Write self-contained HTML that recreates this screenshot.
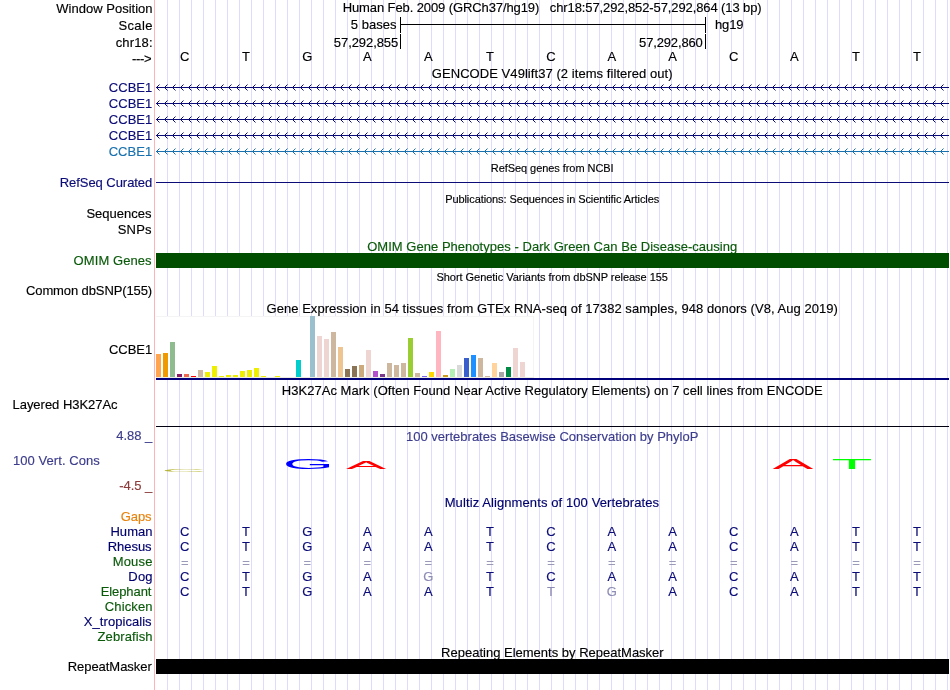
<!DOCTYPE html>
<html lang="en"><head><meta charset="utf-8"><title>UCSC Genome Browser - chr18:57,292,852-57,292,864</title>
<style>
html,body{margin:0;padding:0;background:#fff;}
body{width:950px;height:690px;overflow:hidden;position:relative;}
svg{position:absolute;left:0;top:0;display:block;}
text{font-family:"Liberation Sans",Arial,Helvetica,sans-serif;font-size:13px;white-space:pre;stroke:#000;stroke-width:0.15px;}
.s{font-size:11px;}
.r{text-anchor:end;}
.c{text-anchor:middle;}
.g{shape-rendering:crispEdges;}
.lg{font-size:100px;stroke:none;}
.k0{fill:#0c0c78;stroke:#0c0c78;}
.k1{fill:#1870ae;stroke:#1870ae;}
.k2{fill:#0a5a0a;stroke:#0a5a0a;}
.k3{fill:#3c3c8c;stroke:#3c3c8c;}
.k4{fill:#8c3c3c;stroke:#8c3c3c;}
.k5{fill:#00006e;stroke:#00006e;}
.k6{fill:#e8820c;stroke:#e8820c;}
.k7{fill:#9a9ab8;stroke:#9a9ab8;}
.k8{fill:#8c8cb4;stroke:#8c8cb4;}
</style></head><body>
<svg width="950" height="690" viewBox="0 0 950 690">
<defs>
<pattern id="gl" x="156" y="0" width="12" height="690" patternUnits="userSpaceOnUse"><rect x="11" y="0" width="1" height="690" fill="#dcdcff"/></pattern>
<pattern id="arN" x="156" y="0" width="8" height="7" patternUnits="userSpaceOnUse"><g fill="#0c0c78"><rect x="0" y="3" width="8" height="1"/><rect x="1" y="2" width="1" height="3"/><rect x="2" y="1" width="1" height="1"/><rect x="2" y="5" width="1" height="1"/><rect x="3" y="0" width="1" height="1" opacity=".5"/><rect x="3" y="6" width="1" height="1" opacity=".5"/></g></pattern>
<pattern id="arB" x="156" y="0" width="8" height="7" patternUnits="userSpaceOnUse"><g fill="#1870ae"><rect x="0" y="3" width="8" height="1"/><rect x="1" y="2" width="1" height="3"/><rect x="2" y="1" width="1" height="1"/><rect x="2" y="5" width="1" height="1"/><rect x="3" y="0" width="1" height="1" opacity=".5"/><rect x="3" y="6" width="1" height="1" opacity=".5"/></g></pattern>
</defs>
<rect width="950" height="690" fill="#fff"/>
<g class="g">
<rect x="156" y="0" width="794" height="690" fill="url(#gl)"/>
<rect x="154" y="0" width="1" height="690" fill="#ffb4b4"/>
</g>
<text class="r" x="152.53" y="12.5" textLength="96.22" lengthAdjust="spacing">Window Position</text>
<text class="r" x="152.4" y="29.5" textLength="34.00" lengthAdjust="spacing">Scale</text>
<text class="r" x="152.55" y="46.5" textLength="36.81" lengthAdjust="spacing">chr18:</text>
<text class="r" x="151.5" y="62.5" textLength="19.52" lengthAdjust="spacing">---&gt;</text>
<text class="c" x="552.2" y="11.5" textLength="418.97" lengthAdjust="spacing" xml:space="preserve">Human Feb. 2009 (GRCh37/hg19)   chr18:57,292,852-57,292,864 (13 bp)</text>
<text class="r" x="396.4" y="28.5" textLength="45.56" lengthAdjust="spacing">5 bases</text>
<text class="" x="715.02" y="28.5" textLength="28.40" lengthAdjust="spacing">hg19</text>
<text class="r" x="398.2" y="46.5" textLength="64.35" lengthAdjust="spacing">57,292,855</text>
<text class="r" x="702.8" y="46.5" textLength="63.75" lengthAdjust="spacing">57,292,860</text>
<g class="g" fill="#000">
<rect x="400" y="17" width="1" height="16"/><rect x="705" y="17" width="1" height="16"/><rect x="400" y="24" width="306" height="1"/>
<rect x="400" y="34" width="1" height="15"/><rect x="705" y="34" width="1" height="15"/>
</g>
<text class="c" x="184.7" y="60.5">C</text>
<text class="c" x="246" y="60.5">T</text>
<text class="c" x="307.2" y="60.5">G</text>
<text class="c" x="367.4" y="60.5">A</text>
<text class="c" x="428.4" y="60.5">A</text>
<text class="c" x="490" y="60.5">T</text>
<text class="c" x="551" y="60.5">C</text>
<text class="c" x="611.8" y="60.5">A</text>
<text class="c" x="672.5" y="60.5">A</text>
<text class="c" x="733.8" y="60.5">C</text>
<text class="c" x="794.3" y="60.5">A</text>
<text class="c" x="856" y="60.5">T</text>
<text class="c" x="917" y="60.5">T</text>
<text class="c" x="552.2" y="77.5" textLength="240.82" lengthAdjust="spacing" xml:space="preserve">GENCODE V49lift37 (2 items filtered out)</text>
<text class="r k0" x="152.2" y="92" textLength="43.33" lengthAdjust="spacing">CCBE1</text>
<rect class="g" x="156" y="0" width="792" height="7" fill="url(#arN)" transform="translate(0 84)"/><rect class="g" x="948" y="87" width="1" height="1" fill="#0c0c78"/>
<text class="r k0" x="152.2" y="108" textLength="43.33" lengthAdjust="spacing">CCBE1</text>
<rect class="g" x="156" y="0" width="792" height="7" fill="url(#arN)" transform="translate(0 100)"/><rect class="g" x="948" y="103" width="1" height="1" fill="#0c0c78"/>
<text class="r k0" x="152.2" y="124" textLength="43.33" lengthAdjust="spacing">CCBE1</text>
<rect class="g" x="156" y="0" width="792" height="7" fill="url(#arN)" transform="translate(0 116)"/><rect class="g" x="948" y="119" width="1" height="1" fill="#0c0c78"/>
<text class="r k0" x="152.2" y="140" textLength="43.33" lengthAdjust="spacing">CCBE1</text>
<rect class="g" x="156" y="0" width="792" height="7" fill="url(#arN)" transform="translate(0 132)"/><rect class="g" x="948" y="135" width="1" height="1" fill="#0c0c78"/>
<text class="r k1" x="152.2" y="156" textLength="43.56" lengthAdjust="spacing">CCBE1</text>
<rect class="g" x="156" y="0" width="792" height="7" fill="url(#arB)" transform="translate(0 148)"/><rect class="g" x="948" y="151" width="1" height="1" fill="#1870ae"/>
<text class="c s" x="552.2" y="172" textLength="122.92" lengthAdjust="spacing" xml:space="preserve">RefSeq genes from NCBI</text>
<text class="r k0" x="152.28" y="186.5" textLength="92.50" lengthAdjust="spacing">RefSeq Curated</text>
<rect class="g" x="156" y="182" width="793" height="1" fill="#0c0c78"/>
<text class="c s" x="552.2" y="202.5" textLength="214.07" lengthAdjust="spacing" xml:space="preserve">Publications: Sequences in Scientific Articles</text>
<text class="r" x="151.6" y="217.5" textLength="65.19" lengthAdjust="spacing">Sequences</text>
<text class="r" x="151.6" y="233.5" textLength="33.93" lengthAdjust="spacing">SNPs</text>
<text class="c k2" x="552.2" y="250.5" textLength="370.12" lengthAdjust="spacing" xml:space="preserve">OMIM Gene Phenotypes - Dark Green Can Be Disease-causing</text>
<text class="r k2" x="151.6" y="264.5" textLength="78.02" lengthAdjust="spacing">OMIM Genes</text>
<rect class="g" x="156" y="253" width="793" height="15" fill="#004d00"/>
<text class="c s" x="552.2" y="281" textLength="231.47" lengthAdjust="spacing" xml:space="preserve">Short Genetic Variants from dbSNP release 155</text>
<text class="r" x="152.14" y="295" textLength="126.14" lengthAdjust="spacing">Common dbSNP(155)</text>
<text class="c" x="552.2" y="313" textLength="571.45" lengthAdjust="spacing" xml:space="preserve">Gene Expression in 54 tissues from GTEx RNA-seq of 17382 samples, 948 donors (V8, Aug 2019)</text>
<text class="r" x="152.2" y="353.5" textLength="43.31" lengthAdjust="spacing">CCBE1</text>
<g class="g">
<rect x="156" y="316" width="378" height="62" fill="#f4f4f4"/><rect x="156" y="317" width="377" height="60" fill="#fff"/><rect x="156" y="377" width="378" height="1" fill="#ebebe2"/>
<rect x="156" y="354" width="5" height="23" fill="#ffa54f"/>
<rect x="163" y="353" width="5" height="24" fill="#ee9a00"/>
<rect x="170" y="342" width="5" height="35" fill="#8fbc8f"/>
<rect x="177" y="374" width="5" height="3" fill="#8b1c62"/>
<rect x="184" y="374" width="5" height="3" fill="#ee6a50"/>
<rect x="191" y="376" width="5" height="1" fill="#ff0000"/>
<rect x="198" y="370" width="5" height="7" fill="#cdb79e"/>
<rect x="205" y="372" width="5" height="5" fill="#eeee00"/>
<rect x="212" y="366" width="5" height="11" fill="#eeee00"/>
<rect x="219" y="376" width="5" height="1" fill="#eeee00"/>
<rect x="226" y="375" width="5" height="2" fill="#eeee00"/>
<rect x="233" y="375" width="5" height="2" fill="#eeee00"/>
<rect x="240" y="371" width="5" height="6" fill="#eeee00"/>
<rect x="247" y="370" width="5" height="7" fill="#eeee00"/>
<rect x="254" y="368" width="5" height="9" fill="#eeee00"/>
<rect x="261" y="376" width="5" height="1" fill="#eeee00"/>
<rect x="275" y="376" width="5" height="1" fill="#eeee00"/>
<rect x="296" y="360" width="5" height="17" fill="#00cdcd"/>
<rect x="310" y="316" width="5" height="61" fill="#9ac0cd"/>
<rect x="317" y="336" width="5" height="41" fill="#eed5d2"/>
<rect x="324" y="339" width="5" height="38" fill="#eed5d2"/>
<rect x="331" y="332" width="5" height="45" fill="#cdb79e"/>
<rect x="338" y="347" width="5" height="30" fill="#eec591"/>
<rect x="345" y="369" width="5" height="8" fill="#8b7355"/>
<rect x="352" y="366" width="5" height="11" fill="#8b7355"/>
<rect x="359" y="365" width="5" height="12" fill="#cdaa7d"/>
<rect x="366" y="350" width="5" height="27" fill="#eed5d2"/>
<rect x="373" y="371" width="5" height="6" fill="#b452cd"/>
<rect x="380" y="374" width="5" height="3" fill="#7a378b"/>
<rect x="387" y="363" width="5" height="14" fill="#cdb79e"/>
<rect x="394" y="365" width="5" height="12" fill="#cdb79e"/>
<rect x="401" y="363" width="5" height="14" fill="#cdb79e"/>
<rect x="408" y="338" width="5" height="39" fill="#9acd32"/>
<rect x="415" y="373" width="5" height="4" fill="#cdb79e"/>
<rect x="422" y="376" width="5" height="1" fill="#7a67ee"/>
<rect x="429" y="372" width="5" height="5" fill="#ffd700"/>
<rect x="436" y="331" width="5" height="46" fill="#ffb6c1"/>
<rect x="443" y="375" width="5" height="2" fill="#cd9b1d"/>
<rect x="450" y="369" width="5" height="8" fill="#b4eeb4"/>
<rect x="457" y="365" width="5" height="12" fill="#d9d9d9"/>
<rect x="464" y="358" width="5" height="19" fill="#3a5fcd"/>
<rect x="471" y="355" width="5" height="22" fill="#1e90ff"/>
<rect x="478" y="358" width="5" height="19" fill="#cdb79e"/>
<rect x="485" y="376" width="5" height="1" fill="#cdb79e"/>
<rect x="492" y="363" width="5" height="14" fill="#ffd39b"/>
<rect x="499" y="372" width="5" height="5" fill="#a6a6a6"/>
<rect x="506" y="367" width="5" height="10" fill="#008b45"/>
<rect x="513" y="348" width="5" height="29" fill="#eed5d2"/>
<rect x="520" y="362" width="5" height="15" fill="#eed5d2"/>
<rect x="156" y="378" width="793" height="2" fill="#00007b"/>
</g>
<text class="c" x="552.2" y="394.5" textLength="540.85" lengthAdjust="spacing" xml:space="preserve">H3K27Ac Mark (Often Found Near Active Regulatory Elements) on 7 cell lines from ENCODE</text>
<text class="" x="12.5" y="409" textLength="105.12" lengthAdjust="spacing">Layered H3K27Ac</text>
<rect class="g" x="156" y="426" width="793" height="1" fill="#000010"/>
<text class="c k3" x="552.2" y="440.5" textLength="292.44" lengthAdjust="spacing" xml:space="preserve">100 vertebrates Basewise Conservation by PhyloP</text>
<text class="r k3" x="152.14" y="439.5" textLength="35.94" lengthAdjust="spacing">4.88 _</text>
<text class="k3" x="13.0" y="464.5" textLength="86.78" lengthAdjust="spacing">100 Vert. Cons</text>
<text class="r k4" x="152.17" y="489.5" textLength="33.00" lengthAdjust="spacing">-4.5 _</text>
<text class="lg" x="0" y="0" fill="#a8a810" transform="matrix(0.6253 0 0 0.0282 161.425 471.872)" opacity="0.8">C</text>
<text class="lg" x="0" y="0" fill="#0000ff" transform="matrix(0.6587 0 0 0.1412 282.687 468.862)">G</text>
<text class="lg" x="0" y="0" fill="#ff0000" transform="matrix(0.6032 0 0 0.1163 345.882 469.000)">A</text>
<text class="lg" x="0" y="0" fill="#ff0000" transform="matrix(0.6138 0 0 0.1454 772.380 469.000)">A</text>
<text class="lg" x="0" y="0" fill="#00ff00" transform="matrix(0.6721 0 0 0.1454 831.491 469.000)">T</text>
<text class="c k5" x="551.9" y="507" textLength="214.42" lengthAdjust="spacing" xml:space="preserve">Multiz Alignments of 100 Vertebrates</text>
<text class="r k6" x="151.6" y="521" textLength="30.95" lengthAdjust="spacing">Gaps</text>
<text class="r k5" x="152.53" y="536" textLength="42.10" lengthAdjust="spacing">Human</text>
<text class="r k5" x="151.6" y="551" textLength="43.92" lengthAdjust="spacing">Rhesus</text>
<text class="r k2" x="152.4" y="566" textLength="39.71" lengthAdjust="spacing">Mouse</text>
<text class="r k5" x="152.57" y="581" textLength="24.24" lengthAdjust="spacing">Dog</text>
<text class="r k2" x="151.41" y="596" textLength="50.76" lengthAdjust="spacing">Elephant</text>
<text class="r k2" x="152.57" y="611" textLength="47.74" lengthAdjust="spacing">Chicken</text>
<text class="r k5" x="151.6" y="626" textLength="67.79" lengthAdjust="spacing">X_tropicalis</text>
<text class="r k2" x="152.57" y="641" textLength="55.04" lengthAdjust="spacing">Zebrafish</text>
<text class="c k0" x="184.7" y="536">C</text>
<text class="c k0" x="246" y="536">T</text>
<text class="c k0" x="307.2" y="536">G</text>
<text class="c k0" x="367.4" y="536">A</text>
<text class="c k0" x="428.4" y="536">A</text>
<text class="c k0" x="490" y="536">T</text>
<text class="c k0" x="551" y="536">C</text>
<text class="c k0" x="611.8" y="536">A</text>
<text class="c k0" x="672.5" y="536">A</text>
<text class="c k0" x="733.8" y="536">C</text>
<text class="c k0" x="794.3" y="536">A</text>
<text class="c k0" x="856" y="536">T</text>
<text class="c k0" x="917" y="536">T</text>
<text class="c k0" x="184.7" y="551">C</text>
<text class="c k0" x="246" y="551">T</text>
<text class="c k0" x="307.2" y="551">G</text>
<text class="c k0" x="367.4" y="551">A</text>
<text class="c k0" x="428.4" y="551">A</text>
<text class="c k0" x="490" y="551">T</text>
<text class="c k0" x="551" y="551">C</text>
<text class="c k0" x="611.8" y="551">A</text>
<text class="c k0" x="672.5" y="551">A</text>
<text class="c k0" x="733.8" y="551">C</text>
<text class="c k0" x="794.3" y="551">A</text>
<text class="c k0" x="856" y="551">T</text>
<text class="c k0" x="917" y="551">T</text>
<text class="c k7" x="184.7" y="566.5">=</text>
<text class="c k7" x="246" y="566.5">=</text>
<text class="c k7" x="307.2" y="566.5">=</text>
<text class="c k7" x="367.4" y="566.5">=</text>
<text class="c k7" x="428.4" y="566.5">=</text>
<text class="c k7" x="490" y="566.5">=</text>
<text class="c k7" x="551" y="566.5">=</text>
<text class="c k7" x="611.8" y="566.5">=</text>
<text class="c k7" x="672.5" y="566.5">=</text>
<text class="c k7" x="733.8" y="566.5">=</text>
<text class="c k7" x="794.3" y="566.5">=</text>
<text class="c k7" x="856" y="566.5">=</text>
<text class="c k7" x="917" y="566.5">=</text>
<text class="c k0" x="184.7" y="581">C</text>
<text class="c k0" x="246" y="581">T</text>
<text class="c k0" x="307.2" y="581">G</text>
<text class="c k0" x="367.4" y="581">A</text>
<text class="c k8" x="428.4" y="581">G</text>
<text class="c k0" x="490" y="581">T</text>
<text class="c k0" x="551" y="581">C</text>
<text class="c k0" x="611.8" y="581">A</text>
<text class="c k0" x="672.5" y="581">A</text>
<text class="c k0" x="733.8" y="581">C</text>
<text class="c k0" x="794.3" y="581">A</text>
<text class="c k0" x="856" y="581">T</text>
<text class="c k0" x="917" y="581">T</text>
<text class="c k0" x="184.7" y="596">C</text>
<text class="c k0" x="246" y="596">T</text>
<text class="c k0" x="307.2" y="596">G</text>
<text class="c k0" x="367.4" y="596">A</text>
<text class="c k0" x="428.4" y="596">A</text>
<text class="c k0" x="490" y="596">T</text>
<text class="c k8" x="551" y="596">T</text>
<text class="c k8" x="611.8" y="596">G</text>
<text class="c k0" x="672.5" y="596">A</text>
<text class="c k0" x="733.8" y="596">C</text>
<text class="c k0" x="794.3" y="596">A</text>
<text class="c k0" x="856" y="596">T</text>
<text class="c k0" x="917" y="596">T</text>
<text class="c" x="552.4" y="656.5" xml:space="preserve">Repeating Elements by RepeatMasker</text>
<text class="r" x="151.81" y="670.5" textLength="84.16" lengthAdjust="spacing">RepeatMasker</text>
<rect class="g" x="156" y="659" width="793" height="15" fill="#000"/>
</svg></body></html>
